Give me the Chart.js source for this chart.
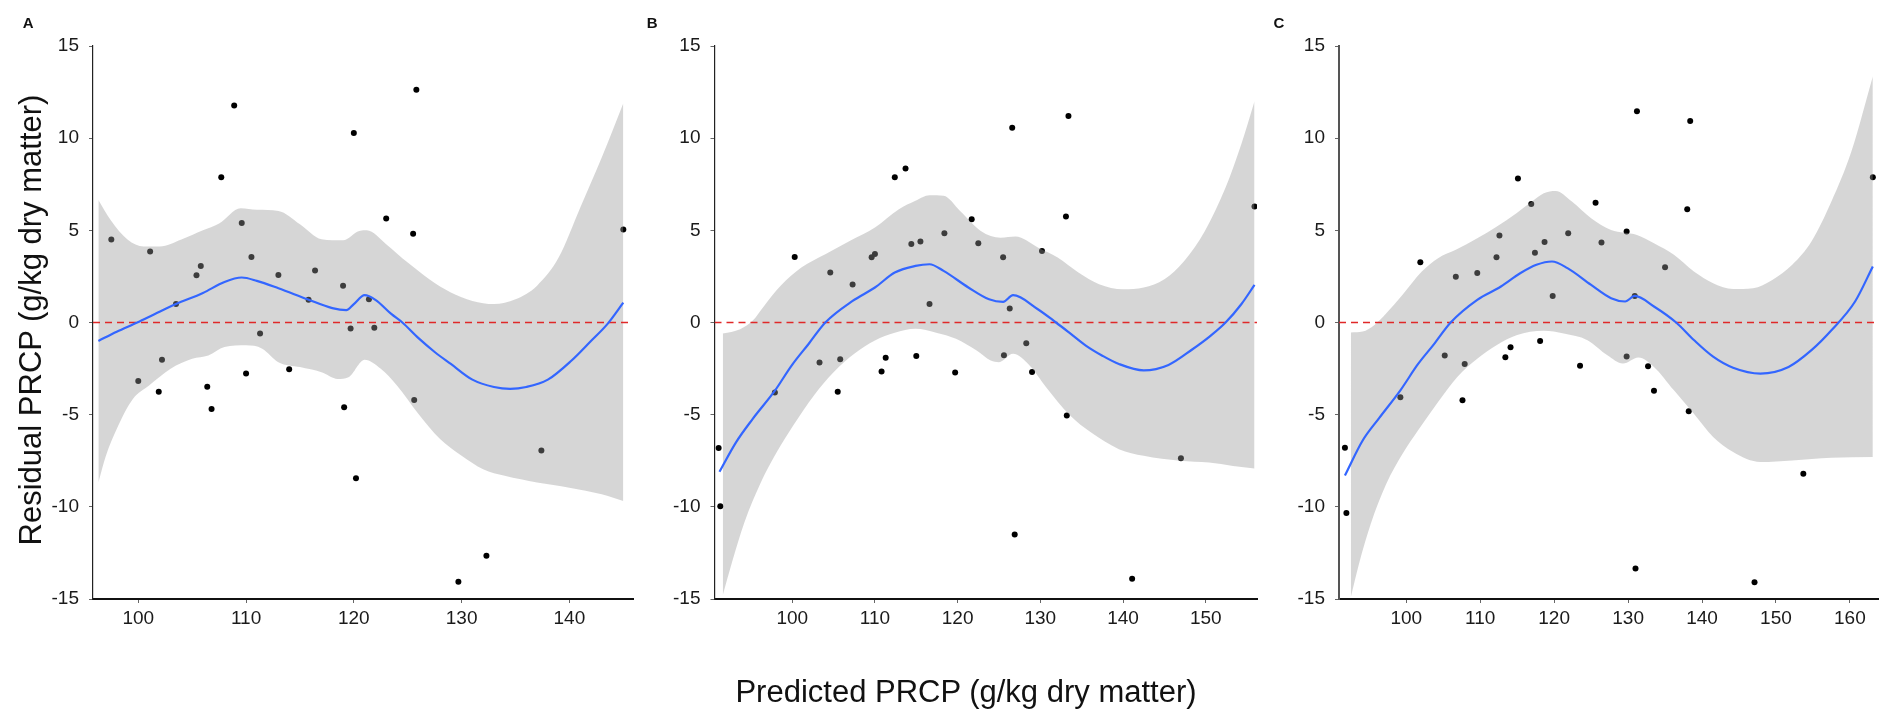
<!DOCTYPE html>
<html>
<head>
<meta charset="utf-8">
<script src="https://cdn.jsdelivr.net/npm/chart.js@4.4.1/dist/chart.umd.min.js"></script>
<style>
html,body{margin:0;padding:0;background:#fff;}
body{width:1881px;height:709px;position:relative;overflow:hidden;font-family:"Liberation Sans",Arial,sans-serif;color:#111;}
canvas{position:absolute;top:0;}
.lbl{position:absolute;font-weight:bold;font-size:15px;line-height:15px;white-space:nowrap;}
.ttl{position:absolute;font-size:31px;line-height:34px;height:34px;text-align:center;white-space:nowrap;}
</style>
</head>
<body>
<canvas id="cA" width="640" height="709" style="left:0px"></canvas>
<canvas id="cB" width="620" height="709" style="left:640px"></canvas>
<canvas id="cC" width="621" height="709" style="left:1260px"></canvas>
<div class="lbl" style="left:22.7px;top:14.6px">A</div>
<div class="lbl" style="left:646.7px;top:14.6px">B</div>
<div class="lbl" style="left:1273.5px;top:14.6px">C</div>
<div class="ttl" style="left:-268.7px;top:303px;width:600px;transform:rotate(-90deg);">Residual PRCP (g/kg dry matter)</div>
<div class="ttl" style="left:566px;top:675px;width:800px;">Predicted PRCP (g/kg dry matter)</div>
<script>
// ---------- shared axis ----------
const yTicks = [-15, -10, -5, 0, 5, 10, 15];
const yRange = [-15, 15];

// ---------- Panel A ----------
const aXRange = [95.8, 145.9];
const aXTicks = [100, 110, 120, 130, 140];
const aPointsX = [97.5,100.0,101.1,101.9,102.2,103.5,105.4,105.8,106.4,106.8,107.7,108.9,109.6,110.0,110.5,111.3,113.0,114.0,115.8,116.4,119.0,119.1,119.7,120.0,120.2,121.4,121.9,123.0,125.5,125.6,125.8,129.7,132.3,137.4,145.0];
const aPointsY = [4.5,-3.17,3.85,-3.75,-2.02,1.0,2.57,3.07,-3.49,-4.69,7.88,11.77,5.4,-2.77,3.56,-0.6,2.58,-2.53,1.23,2.82,1.99,-4.6,-0.33,10.28,-8.45,1.26,-0.29,5.64,4.81,-4.2,12.63,-14.07,-12.66,-6.94,5.04];
const aFitX = [96.3,98,99.9,101.5,103.5,106,108,109.6,111,113,115.7,118,119.3,120,121,122,123.5,124.5,126,127.5,129,131,133,134.5,136,138,140.2,142,143.5,145.0];
const aFitY = [-1.0,-0.5,0.0,0.45,1.0,1.6,2.2,2.44,2.26,1.86,1.26,0.78,0.67,1.0,1.48,1.23,0.45,0.0,-0.85,-1.6,-2.25,-3.1,-3.5,-3.6,-3.5,-3.1,-2.06,-1.0,-0.1,1.08];
const aUpX = [96.3,97.5,99,100.5,102,104,106,107.5,109.5,111,113,115,117,119,120.5,121.2,123,125,127,129,131,133,135,137,139,141,143,145];
const aUpY = [6.65,5.5,4.5,4.12,4.12,4.5,5.0,5.37,6.2,6.11,6.05,5.33,4.52,4.46,4.97,5.0,4.25,3.25,2.35,1.63,1.17,1.0,1.26,2.0,3.52,6.23,8.95,11.9];
const aLoX = [96.3,97,98,99.5,101,103,105,106.5,108,110,111.5,113,115,117,118.5,119.5,121,122.5,124,126,128,130,132,134,137,140,143,145];
const aLoY = [-8.68,-7.23,-5.78,-4.15,-3.42,-2.51,-1.97,-1.79,-1.33,-1.24,-1.42,-2.15,-2.42,-2.7,-3.06,-2.97,-2.02,-2.51,-3.42,-4.96,-6.32,-7.23,-7.96,-8.32,-8.68,-8.96,-9.32,-9.68];

// ---------- Panel B ----------
const bXRange = [90.6, 156.2];
const bXTicks = [100, 110, 120, 130, 140, 150];
const bPointsX = [91.1,91.3,97.9,100.3,103.3,104.6,105.5,105.8,107.3,109.6,110.0,110.8,111.3,112.4,113.7,114.4,115.0,115.5,116.6,118.4,119.7,121.7,122.5,125.5,125.6,126.3,126.6,126.9,128.3,129.0,130.2,133.1,133.2,133.4,141.1,147.0,155.9];
const bPointsY = [-6.81,-9.97,-3.8,3.56,-2.17,2.71,-3.75,-1.99,2.06,3.54,3.72,-2.66,-1.91,7.88,8.35,4.26,-1.82,4.39,1.01,4.84,-2.71,5.6,4.3,3.54,-1.77,0.76,10.57,-11.5,-1.13,-2.68,3.88,5.75,-5.05,11.2,-13.9,-7.36,6.29];
const bFitX = [91.2,93.2,95.2,97.9,99.9,102,104.0,107.3,110.0,112.4,114.9,116.6,118.3,121.3,123.8,125.5,126.7,129.7,131.9,133.5,135.5,137.5,139.5,142.5,145.5,148.4,150.5,152.4,154.3,155.9];
const bFitY = [-8.1,-6.5,-5.24,-3.7,-2.35,-1.15,0,1.17,1.9,2.71,3.07,3.16,2.8,1.9,1.26,1.12,1.48,0.72,0,-0.55,-1.25,-1.8,-2.25,-2.6,-2.3,-1.45,-0.75,0,0.99,2.04];
const bUpX = [91.6,93.7,95.2,96.6,98.6,101.1,104.0,107.0,110.0,112.9,114.9,116.6,118.3,120.3,122.8,125.2,127.0,129.7,132.1,134.6,137.1,140.0,142.5,145.0,147.4,149.9,152.4,154.3,155.9];
const bUpY = [-0.6,-0.36,0.09,0.9,1.99,2.98,3.7,4.43,5.15,6.14,6.6,6.9,6.87,6.05,4.97,4.6,4.66,4.07,3.52,2.71,2.08,1.81,1.9,2.35,3.34,4.97,7.32,9.67,12.0];
const bLoX = [91.6,92.7,94.2,96.2,98.1,100.1,102.6,105.0,107.5,110.0,112.4,114.9,117.4,119.8,122.3,124.0,125.0,126.7,128.7,130.7,133.6,136.1,139.5,142.5,146.9,150.4,153.3,155.9];
const bLoY = [-14.8,-13.04,-10.86,-8.68,-7.05,-5.6,-3.97,-2.7,-1.7,-0.97,-0.55,-0.34,-0.55,-0.88,-1.52,-2.06,-2.15,-1.7,-2.33,-3.51,-5.05,-5.96,-6.87,-7.23,-7.5,-7.6,-7.78,-7.92];

// ---------- Panel C ----------
const cXRange = [90.9, 163.8];
const cXTicks = [100, 110, 120, 130, 140, 150, 160];
const cPointsX = [91.7,91.9,99.2,101.9,105.2,106.7,107.6,107.9,109.6,112.2,112.6,113.4,114.1,115.1,116.9,117.4,118.1,118.7,119.8,121.9,123.5,125.6,126.4,129.8,129.8,130.9,131.0,131.2,132.7,133.5,135.0,138.0,138.2,138.4,147.1,153.7,163.1];
const cPointsY = [-6.79,-10.33,-4.06,3.27,-1.79,2.48,-4.22,-2.25,2.69,3.54,4.72,-1.88,-1.34,7.81,6.43,3.79,-1.01,4.37,1.44,4.84,-2.34,6.49,4.34,4.93,-1.85,1.44,-13.35,11.46,-2.37,-3.7,3.0,6.14,-4.82,10.93,-14.09,-8.21,7.88];
const cFitX = [91.7,94.1,96.3,99.2,101.6,103.7,106.0,109.6,112.8,115.4,117.6,119.7,121.8,125.0,127.7,129.6,130.9,133.5,136.5,138.9,141.5,144.2,147.9,151.7,154.8,157.5,160.7,163.1];
const cFitY = [-8.3,-6.4,-5.2,-3.68,-2.25,-1.2,0,1.23,1.95,2.67,3.13,3.31,2.95,2.04,1.32,1.14,1.44,0.87,0,-0.95,-1.85,-2.45,-2.77,-2.41,-1.5,-0.42,1.14,3.04];
const cUpX = [92.5,94.1,95.7,97.3,99.5,102.1,104.3,106.7,109.6,112.2,114.9,117.0,118.6,120.2,122.4,125.0,127.7,131.2,133.5,136.2,138.9,141.5,144.2,146.9,149.5,152.2,154.8,157.5,160.2,163.1];
const cUpY = [-0.54,-0.49,-0.13,0.5,1.5,2.76,3.49,3.94,4.57,5.2,5.93,6.56,7.01,7.14,6.56,5.66,5.02,4.75,4.3,3.67,2.76,2.13,1.82,1.86,2.31,3.13,4.39,6.56,9.27,13.34];
const cLoX = [92.5,93.6,95.2,97.3,99.5,101.6,104.3,106.9,109.6,112.2,114.9,118.6,121.3,124.5,127.2,129.3,131.4,133.5,136.2,138.9,141.5,144.2,147.9,152.2,157.5,163.1];
const cLoY = [-14.9,-13.1,-10.92,-8.75,-7.12,-5.85,-4.31,-2.95,-1.96,-1.23,-0.69,-0.45,-0.6,-0.96,-1.78,-2.23,-1.9,-2.41,-3.68,-4.95,-6.21,-7.03,-7.57,-7.48,-7.34,-7.3];

// ---------- drawing ----------
Chart.defaults.font.family = "'Liberation Sans', Arial, sans-serif";
function pts(xs, ys) { return xs.map((x, i) => ({ x: x, y: ys[i] })); }

function makePanel(id, p) {
  return new Chart(document.getElementById(id), {
    type: 'line',
    data: {
      datasets: [
        { label: 'points', data: pts(p.px, p.py), showLine: false, pointRadius: 3, pointHoverRadius: 3,
          pointBackgroundColor: '#000', pointBorderWidth: 0, order: 4 },
        { label: 'lower', data: pts(p.loX, p.loY), pointRadius: 0, borderWidth: 0, borderColor: 'rgba(0,0,0,0)',
          fill: false, cubicInterpolationMode: 'monotone', order: 3 },
        { label: 'upper', data: pts(p.upX, p.upY), pointRadius: 0, borderWidth: 0, borderColor: 'rgba(0,0,0,0)',
          fill: '-1', backgroundColor: 'rgba(153,153,153,0.4)', cubicInterpolationMode: 'monotone', order: 2 },
        { label: 'zero', data: [{ x: p.xr[0], y: 0 }, { x: p.xr[1], y: 0 }], pointRadius: 0,
          borderColor: '#e02828', borderWidth: 1.4, borderDash: [7, 5], fill: false, order: 1 },
        { label: 'fit', data: pts(p.fx, p.fy), pointRadius: 0, borderColor: '#3366FF', borderWidth: 2.2,
          fill: false, cubicInterpolationMode: 'monotone', order: 0 }
      ]
    },
    options: {
      responsive: false, animation: false, devicePixelRatio: 1, events: [],
      layout: { padding: { top: 46, left: 0, right: p.padR, bottom: 0 } },
      plugins: { legend: { display: false }, tooltip: { enabled: false } },
      scales: {
        x: {
          type: 'linear', min: p.xr[0], max: p.xr[1],
          afterBuildTicks: s => { s.ticks = p.xt.map(v => ({ value: v })); },
          afterFit: s => { s.height = 110; },
          grid: { display: true, drawOnChartArea: false, drawTicks: true, tickLength: 4, color: '#666', lineWidth: 1 },
          border: { display: true, color: '#111', width: 2 },
          ticks: { font: { size: 19 }, color: '#1a1a1a', padding: 4, maxRotation: 0, autoSkip: false }
        },
        y: {
          type: 'linear', min: yRange[0], max: yRange[1],
          afterBuildTicks: s => { s.ticks = yTicks.map(v => ({ value: v })); },
          afterFit: s => { s.width = p.yW; },
          grid: { display: true, drawOnChartArea: false, drawTicks: true, tickLength: 4, color: '#666', lineWidth: 1 },
          border: { display: true, color: p.yc, width: p.yw },
          ticks: { font: { size: 19 }, color: '#1a1a1a', padding: 10, autoSkip: false }
        }
      }
    }
  });
}

makePanel('cA', { xr: aXRange, xt: aXTicks, px: aPointsX, py: aPointsY, fx: aFitX, fy: aFitY,
  upX: aUpX, upY: aUpY, loX: aLoX, loY: aLoY, yW: 93, padR: 7, yc: '#222', yw: 1.2 });
makePanel('cB', { xr: bXRange, xt: bXTicks, px: bPointsX, py: bPointsY, fx: bFitX, fy: bFitY,
  upX: bUpX, upY: bUpY, loX: bLoX, loY: bLoY, yW: 74.5, padR: 2, yc: '#222', yw: 1.2 });
makePanel('cC', { xr: cXRange, xt: cXTicks, px: cPointsX, py: cPointsY, fx: cFitX, fy: cFitY,
  upX: cUpX, upY: cUpY, loX: cLoX, loY: cLoY, yW: 79, padR: 0, yc: '#555', yw: 2 });
</script>
</body>
</html>
